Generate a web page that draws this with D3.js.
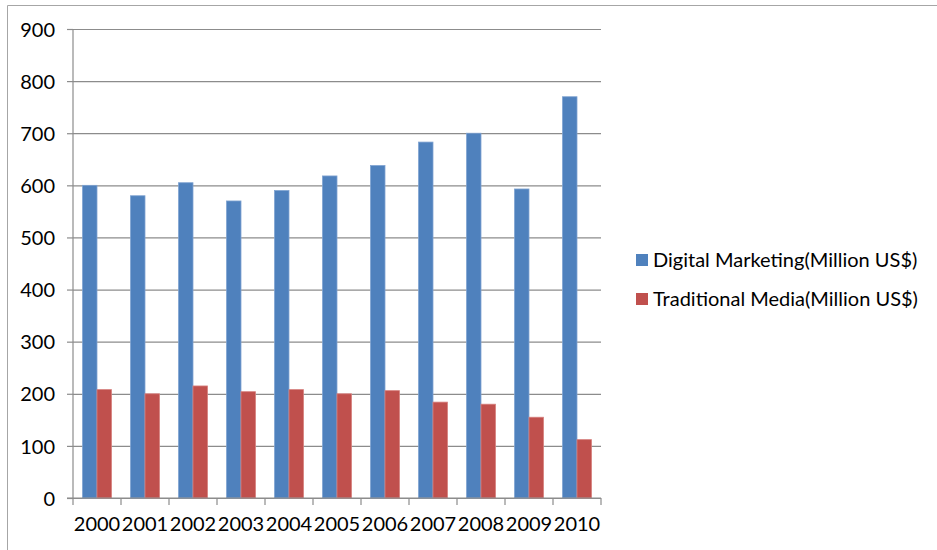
<!DOCTYPE html>
<html>
<head>
<meta charset="utf-8">
<script src="https://cdn.jsdelivr.net/npm/d3@7"></script>
<style>
  html, body { margin: 0; padding: 0; background: #fff; }
  svg { display: block; }
  text { font-family: Lato, "Open Sans", sans-serif; fill: #000; }
</style>
</head>
<body>
<svg id="chart" width="937" height="550"></svg>
<script>
const years = ["2000","2001","2002","2003","2004","2005","2006","2007","2008","2009","2010"];
const seriesNames = ["Digital Marketing(Million US$)", "Traditional Media(Million US$)"];
const digital = [600, 580, 605, 570, 590, 618, 638, 683, 700, 593, 770];
const traditional = [208, 200, 215, 204, 208, 200, 206, 184, 180, 155, 112];
const yTicks = [0, 100, 200, 300, 400, 500, 600, 700, 800, 900];
const colors = ["#4F81BD", "#C0504D"];

const svg = d3.select("#chart");
const W = 937, H = 550;
const plot = { left: 73, right: 601, top: 29, bottom: 498 };

// outer frame (left + top edges visible)
svg.append("line").attr("x1", 7.5).attr("x2", 7.5).attr("y1", 5.5).attr("y2", H)
  .attr("stroke", "#a6a6a6").attr("stroke-width", 1);
svg.append("line").attr("x1", 7.5).attr("x2", W).attr("y1", 5.5).attr("y2", 5.5)
  .attr("stroke", "#a6a6a6").attr("stroke-width", 1);

const x = d3.scaleBand().domain(years).range([plot.left, plot.right]).paddingInner(0).paddingOuter(0);
const x1 = d3.scaleBand().domain(seriesNames).range([0, x.bandwidth()]).paddingInner(0).paddingOuter(0.655);
const y = d3.scaleLinear().domain([0, 900]).range([plot.bottom, plot.top]);

// gridlines + y ticks
const yAxis = d3.axisLeft(y).tickValues(yTicks).tickSize(-(plot.right - plot.left)).tickPadding(0).tickFormat(d3.format("d"));
const gy = svg.append("g").attr("transform", `translate(${plot.left},0)`).call(yAxis);
gy.select(".domain").remove();
gy.selectAll(".tick line").attr("stroke", "#8c8c8c").attr("stroke-width", 1.2);
gy.selectAll(".tick").append("line").attr("x1", -6).attr("x2", 0).attr("stroke", "#8c8c8c").attr("stroke-width", 1.2);
gy.selectAll(".tick text").attr("x", -18).attr("dy", "0.36em").style("font-size", "20px").style("font-family", "Lato, sans-serif");

// y axis line
svg.append("line").attr("x1", plot.left).attr("x2", plot.left).attr("y1", plot.top).attr("y2", plot.bottom + 0.5)
  .attr("stroke", "#8c8c8c").attr("stroke-width", 1.2);

// bars
const data = years.map((yr, i) => ({ year: yr, vals: [digital[i], traditional[i]] }));
const groups = svg.append("g").selectAll("g").data(data).join("g")
  .attr("transform", d => `translate(${x(d.year)},0)`);
groups.selectAll("rect").data(d => d.vals.map((v, j) => ({ name: seriesNames[j], v, j }))).join("rect")
  .attr("x", d => x1(d.name))
  .attr("width", x1.bandwidth())
  .attr("y", d => y(d.v))
  .attr("height", d => y(0) - y(d.v))
  .attr("fill", d => colors[d.j])
  .attr("stroke", d => d.j === 0 ? "#7fa3d1" : "#d6807e")
  .attr("stroke-width", 0.8);

// x axis
const xAxis = d3.axisBottom(x).tickSize(0).tickPadding(19);
const gx = svg.append("g").attr("transform", `translate(0,${plot.bottom})`).call(xAxis);
gx.select(".domain").remove();
gx.selectAll(".tick text").style("font-size", "20px").style("font-family", "Lato, sans-serif").attr("dy", "0.71em");
svg.append("line").attr("x1", plot.left - 6).attr("x2", plot.right).attr("y1", plot.bottom).attr("y2", plot.bottom)
  .attr("stroke", "#8c8c8c").attr("stroke-width", 1.2);
const boundaries = years.map(yr => x(yr)).concat([plot.right]);
svg.append("g").selectAll("line").data(boundaries).join("line")
  .attr("x1", d => d).attr("x2", d => d).attr("y1", plot.bottom).attr("y2", plot.bottom + 7)
  .attr("stroke", "#8c8c8c").attr("stroke-width", 1.2);

// legend
const legend = svg.append("g").attr("transform", "translate(636,254)");
const li = legend.selectAll("g").data(seriesNames).join("g")
  .attr("transform", (d, i) => `translate(0,${i * 39})`);
li.append("rect").attr("width", 12).attr("height", 12).attr("fill", (d, i) => colors[i]);
li.append("text").attr("x", 17).attr("y", 12.5).text(d => d)
  .style("font-size", "20px").style("font-family", "Lato, sans-serif");
</script>
</body>
</html>
